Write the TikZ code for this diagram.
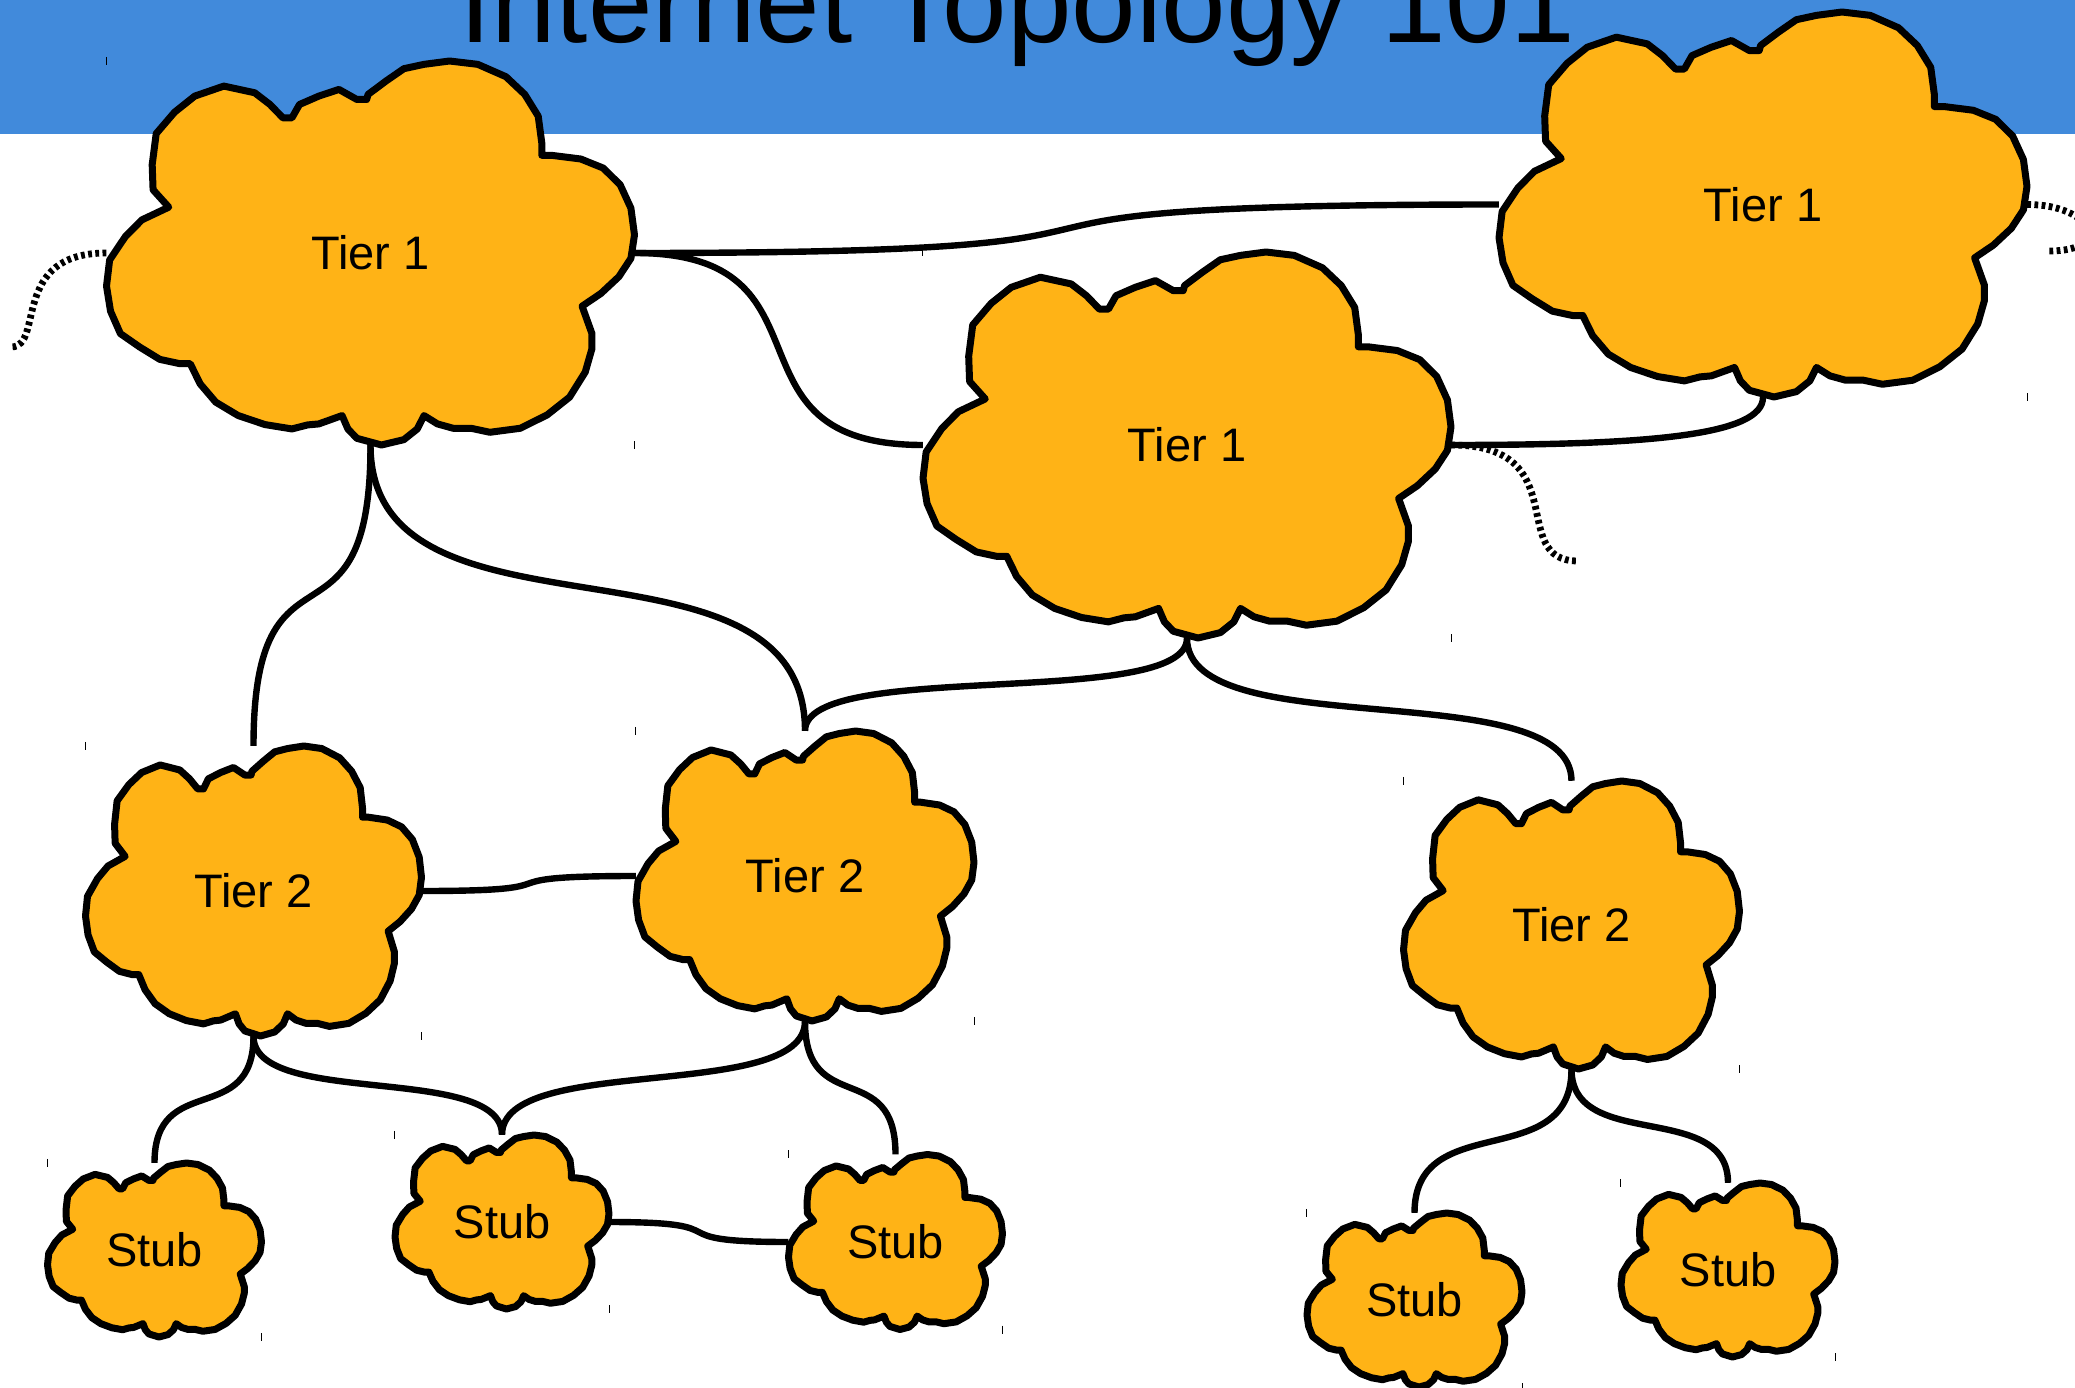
\documentclass[tikz,border=0pt]{standalone}
\usepackage{fontspec}
\setmainfont{Liberation Sans}
\definecolor{band}{RGB}{65,138,219}
\definecolor{cloudfill}{RGB}{255,179,22}
\def\cloudpath{(-450.5,-137) -- (-485.5,-189) -- (-487.5,-264) -- (-478.5,-357) -- (-437.5,-421) -- (-392.5,-469) -- (-327.5,-499) -- (-258.5,-479) -- (-224.5,-444) -- (-195.5,-404) -- (-175.5,-404) -- (-158.5,-444) -- (-115.5,-469) -- (-70.5,-489) -- (-30.5,-459) -- (-8.5,-459) -- (-5.5,-474) -- (34.5,-514) -- (74.5,-551) -- (119.5,-564) -- (176.5,-574) -- (239.5,-564) -- (302.5,-527) -- (344.5,-474) -- (374.5,-409) -- (382.5,-329) -- (382.5,-292) -- (404.5,-292) -- (469.5,-281) -- (519.5,-254) -- (557.5,-204) -- (581.5,-134) -- (589.5,-54) -- (581.5,16) -- (554.5,71) -- (514.5,121) -- (472.5,159) -- (494.5,241) -- (494.5,286) -- (479.5,356) -- (444.5,431) -- (394.5,484) -- (334.5,524) -- (266.5,536) -- (224.5,524) -- (184.5,524) -- (149.5,511) -- (119.5,486) -- (104.5,526) -- (74.5,558) -- (24.5,574) -- (-30.5,554) -- (-50.5,526) -- (-63.5,486) -- (-115.5,511) -- (-140.5,514) -- (-175.5,526) -- (-235.5,513) -- (-295.5,486) -- (-345.5,446) -- (-380.5,391) -- (-402.5,331) -- (-425.5,331) -- (-470.5,318) -- (-515.5,281) -- (-558.5,241) -- (-580.5,174) -- (-589.5,99) -- (-582.5,21) -- (-547.5,-49) -- (-510.5,-99) -- cycle}
\tikzset{
  cloudline/.style={draw=black,fill=cloudfill,line width=7pt,line join=round},
  cloudtext/.style={inner sep=0pt,font=\fontsize{47}{50}\selectfont,text=black},
  titletext/.style={inner sep=0pt,font=\fontsize{116}{120}\selectfont,text=black,anchor=base},
  link/.style={draw=black,line width=6.4pt},
  uplink/.style={draw=black,line width=6.8pt,dash pattern=on 3.8pt off 3.4pt},
  tick/.style={draw=black,line width=1.3pt}
}
% name, left, top, right, bottom, text
\newcommand{\cloudat}[6]{%
  \pgfmathsetmacro{\cw}{#4-#2}\pgfmathsetmacro{\ch}{#5-#3}%
  \pgfmathsetmacro{\cx}{(#4+#2)/2}\pgfmathsetmacro{\cy}{(#5+#3)/2}%
  \pgfmathsetmacro{\sx}{\cw/1179}\pgfmathsetmacro{\sy}{\ch/1148}%
  \begin{scope}[shift={(\cx,\cy)},xscale=\sx,yscale=\sy]
    \path[cloudline] \cloudpath;
  \end{scope}
  \node[cloudtext,minimum width=\cw pt,minimum height=\ch pt] (#1) at (\cx,\cy) {#6};
  \draw[tick] (#1.north west) ++(0,-4) -- ++(0,8);
  \draw[tick] (#1.south east) ++(0,-4) -- ++(0,8);
}
\newcommand{\hlink}[3]{\draw[link] (#1) .. controls +(#3,0) and +(-#3,0) .. (#2);}
\newcommand{\vlink}[3]{\draw[link] (#1) .. controls +(0,#3) and +(0,-#3) .. (#2);}
\begin{document}
\begin{tikzpicture}[x=1pt,y=-1pt]
\path[use as bounding box] (0,0) rectangle (2075,1388);
\clip (0,0) rectangle (2075,1388);
\fill[white] (0,0) rectangle (2075,1388);
\fill[band] (0,0) rectangle (2075,134);
\node[titletext] (title) at (1017,43) {Internet Topology 101};

\cloudat{tOneA}{106.5}{61}{634.5}{445}{Tier 1}
\cloudat{tOneC}{1499}{12}{2027}{397}{Tier 1}
\cloudat{tOneB}{923}{252}{1451}{638}{Tier 1}
\cloudat{tTwoA}{85.5}{746}{421.5}{1036}{Tier 2}
\cloudat{tTwoB}{636}{731}{974}{1021}{Tier 2}
\cloudat{tTwoC}{1403.5}{781}{1739.5}{1069}{Tier 2}
\cloudat{stubA}{47.5}{1163}{261.5}{1337}{Stub}
\cloudat{stubB}{395}{1135}{609}{1309}{Stub}
\cloudat{stubC}{788.5}{1154.5}{1002.5}{1329.5}{Stub}
\cloudat{stubD}{1307}{1213}{1522}{1387}{Stub}
\cloudat{stubE}{1621}{1183}{1835}{1357}{Stub}

\coordinate (endA) at (11,347);
\coordinate (endB) at (1578,561);
\coordinate (endC) at (2049,251);

\hlink{tOneA.east}{tOneC.west}{660}
\hlink{tOneA.east}{tOneB.west}{210}
\draw[link] (tOneB.east) .. controls +(200,0) and +(0,38) .. (tOneC.south);
\vlink{tOneA.south}{tTwoA.north}{225}
\vlink{tOneA.south}{tTwoB.north}{215}
\vlink{tOneB.south}{tTwoB.north}{72}
\vlink{tOneB.south}{tTwoC.north}{108}
\hlink{tTwoA.east}{tTwoB.west}{170}
\vlink{tTwoA.south}{stubA.north}{92}
\vlink{tTwoA.south}{stubB.north}{72}
\vlink{tTwoB.south}{stubB.north}{82}
\vlink{tTwoB.south}{stubC.north}{97}
\hlink{stubB.east}{stubC.west}{140}
\vlink{tTwoC.south}{stubD.north}{105}
\vlink{tTwoC.south}{stubE.north}{83}

\draw[uplink] (tOneA.west) .. controls +(-97,0) and +(34,0) .. (endA);
\draw[uplink] (tOneB.east) .. controls +(125,0) and +(-72,0) .. (endB);
\draw[uplink] (tOneC.east) .. controls +(65,0) and +(65,0) .. (endC);
\end{tikzpicture}
\end{document}
